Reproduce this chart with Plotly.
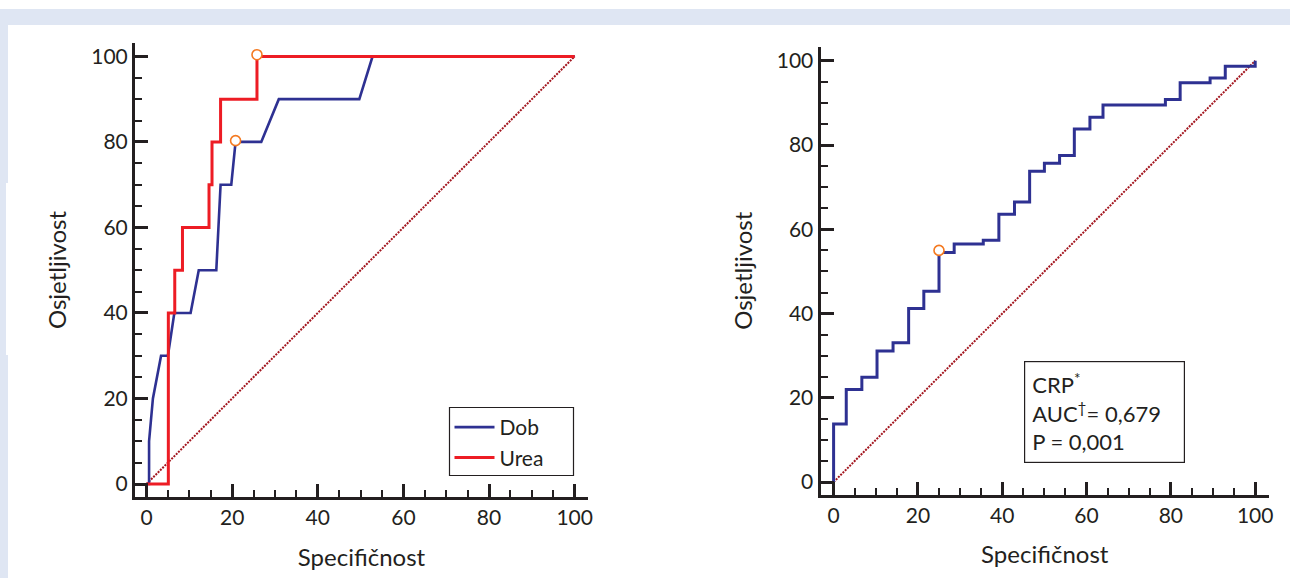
import plotly.graph_objects as go

# ---------------- data ----------------
# Left panel: Dob (age) ROC curve (linear segments)
dob_spec = [0, 0.6, 0.6, 1.5, 3.4, 5.0, 6.5, 10.3, 12.2, 16.3, 17.3, 19.8, 20.8, 26.8, 30.9, 49.7, 52.8, 100]
dob_sens = [0, 0, 10, 20, 30, 30, 40, 40, 50, 50, 70, 70, 80, 80, 90, 90, 100, 100]

# Left panel: Urea ROC curve (step, hv)
urea_spec = [0, 5.1, 6.6, 8.4, 14.6, 15.3, 17.3, 25.8, 100]
urea_sens = [0, 40, 50, 60, 70, 80, 90, 100, 100]

# Optimal cut-off points
dob_cut = ([20.8], [80.3])
urea_cut = ([25.8], [100.4])

# Right panel: CRP ROC curve (step, hv)
crp_spec = [0, 0, 3.0, 6.7, 10.3, 14.1, 17.8, 21.4, 25.0, 28.6, 35.5, 39.2, 42.9, 46.5,
            50.0, 53.6, 57.1, 60.8, 63.9, 78.7, 82.2, 89.3, 92.9, 100, 100]
crp_sens = [0, 13.8, 22.0, 24.9, 31.1, 33.1, 41.2, 45.3, 54.5, 56.5, 57.4, 63.6, 66.5, 73.8,
            75.7, 77.5, 83.8, 86.6, 89.5, 90.8, 94.8, 95.9, 98.7, 98.7, 100]
crp_cut = ([25.0], [55.0])

diag = [0, 100]
tick_vals = [0, 20, 40, 60, 80, 100]
tick_text = ["0", "20", "40", "60", "80", "100"]

x_title = "Specifičnost"
y_title = "Osjetljivost"
crp_text = "CRP<sup>*</sup><br>AUC<sup>†</sup>= 0,679<br>P = 0,001"

# ---------------- styling ----------------
W, H = 1290, 578
FONT = "Lato, 'Open Sans', sans-serif"
INK = "#231f20"
BLUE = "#2e3192"
RED = "#ed1c24"
ORANGE = "#f47920"
DIAG = "#a3161f"

fig = go.Figure()

# diagonal reference lines
for xa, ya in (("x", "y"), ("x2", "y2")):
    fig.add_trace(go.Scatter(x=diag, y=diag, mode="lines", xaxis=xa, yaxis=ya,
                             line=dict(color=DIAG, width=2, dash="2px,1.2px"),
                             showlegend=False, hoverinfo="skip"))

fig.add_trace(go.Scatter(x=dob_spec, y=dob_sens, mode="lines", name="Dob",
                         line=dict(color=BLUE, width=2.6), xaxis="x", yaxis="y"))
fig.add_trace(go.Scatter(x=urea_spec, y=urea_sens, mode="lines", name="Urea",
                         line=dict(color=RED, width=3, shape="hv"), xaxis="x", yaxis="y"))
fig.add_trace(go.Scatter(x=crp_spec, y=crp_sens, mode="lines", name="CRP",
                         line=dict(color=BLUE, width=3, shape="hv"), xaxis="x2", yaxis="y2",
                         showlegend=False))

for (cx, cy), xa, ya in ((dob_cut, "x", "y"), (urea_cut, "x", "y"), (crp_cut, "x2", "y2")):
    fig.add_trace(go.Scatter(x=cx, y=cy, mode="markers", xaxis=xa, yaxis=ya,
                             marker=dict(symbol="circle", size=10, color="white",
                                         line=dict(color=ORANGE, width=1.6)),
                             showlegend=False, hoverinfo="skip"))

# pixel geometry -> domains
L1, R1, T1, B1 = 135, 588, 43, 497
L2, R2, T2, B2 = 820.5, 1269, 47, 494.5
x1_0, x1_s, y1_0, y1_s = 146.5, 4.282, 484.0, 4.276
x2_0, x2_s, y2_0, y2_s = 833.6, 4.216, 482.1, 4.213


def axis_common():
    return dict(
        showline=True, linecolor=INK, linewidth=3,
        ticks="inside", ticklen=13, tickwidth=2.6, tickcolor=INK,
        tickvals=tick_vals, ticktext=tick_text,
        minor=dict(dtick=5, ticks="inside", ticklen=7, tickwidth=1.5, tickcolor=INK),
        showgrid=False, zeroline=False, automargin=False,
        tickfont=dict(family=FONT, size=21, color=INK),
        title_font=dict(family=FONT, size=24, color=INK),
    )


fig.update_layout(
    width=W, height=H,
    margin=dict(l=0, r=0, t=0, b=0),
    paper_bgcolor="white", plot_bgcolor="rgba(0,0,0,0)",
    font=dict(family=FONT, color=INK),
    xaxis=dict(domain=[L1 / W, R1 / W],
               range=[(L1 - x1_0) / x1_s, (R1 - x1_0) / x1_s],
               anchor="y", title=dict(text=x_title, standoff=21), **axis_common()),
    yaxis=dict(domain=[1 - B1 / H, 1 - T1 / H],
               range=[(y1_0 - B1) / y1_s, (y1_0 - T1) / y1_s],
               anchor="x", title=dict(text=y_title, standoff=18), **axis_common()),
    xaxis2=dict(domain=[L2 / W, R2 / W],
                range=[(L2 - x2_0) / x2_s, (R2 - x2_0) / x2_s],
                anchor="y2", title=dict(text=x_title, standoff=21), **axis_common()),
    yaxis2=dict(domain=[1 - B2 / H, 1 - T2 / H],
                range=[(y2_0 - B2) / y2_s, (y2_0 - T2) / y2_s],
                anchor="x2", title=dict(text=y_title, standoff=18), **axis_common()),
    legend=dict(x=449.5 / W, y=1 - 407 / H, xanchor="left", yanchor="top",
                bgcolor="rgba(0,0,0,0)", borderwidth=0,
                font=dict(family=FONT, size=21, color=INK),
                itemwidth=40, tracegroupgap=0),
    showlegend=True,
)

# page frame (light blue band + left strip)
FRAME = "#dfe6f3"
fig.add_shape(type="rect", xref="paper", yref="paper", layer="below",
              x0=0, x1=1, y0=1 - 25 / H, y1=1 - 9 / H, fillcolor=FRAME, line_width=0)
fig.add_shape(type="rect", xref="paper", yref="paper", layer="below",
              x0=0, x1=8 / W, y0=0, y1=1 - 9 / H, fillcolor=FRAME, line_width=0)
fig.add_shape(type="rect", xref="paper", yref="paper", layer="below",
              x0=6 / W, x1=8 / W, y0=1 - 355 / H, y1=1 - 183 / H, fillcolor="white", line_width=0)

# legend frame
fig.add_shape(type="rect", xref="paper", yref="paper", layer="above",
              x0=449.5 / W, x1=573.5 / W, y0=1 - 475.5 / H, y1=1 - 407.5 / H,
              fillcolor="rgba(0,0,0,0)", line=dict(color=INK, width=1.2))

# CRP info box
fig.add_annotation(xref="paper", yref="paper", x=1023.5 / W, y=1 - 360.5 / H,
                   xanchor="left", yanchor="top", showarrow=False,
                   text=crp_text, align="left", valign="middle",
                   width=145, height=86, borderpad=7,
                   bordercolor=INK, borderwidth=1.2, bgcolor="white",
                   font=dict(family=FONT, size=22, color=INK))

fig.write_html("out.html",
               config={"displayModeBar": False},
               post_script="document.body.style.margin='0px';document.body.style.overflow='hidden';")
